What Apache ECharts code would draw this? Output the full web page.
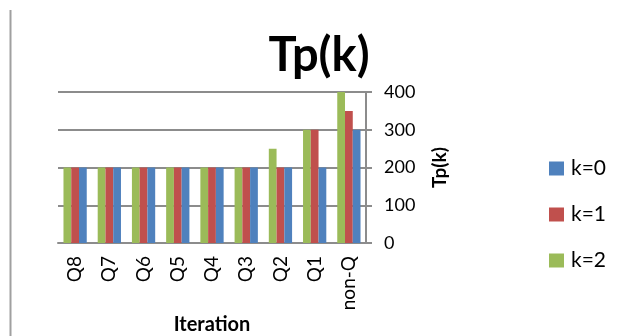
<!DOCTYPE html>
<html>
<head>
<meta charset="utf-8">
<script src="https://cdn.jsdelivr.net/npm/echarts@6/dist/echarts.min.js"></script>
<style>html,body{margin:0;padding:0;background:#fff;}#c{width:627px;height:336px;}</style>
</head>
<body>
<div id="c"></div>
<script>
var categories = ['Q8','Q7','Q6','Q5','Q4','Q3','Q2','Q1','non-Q'];
var k0 = [200,200,200,200,200,200,200,200,300];
var k1 = [200,200,200,200,200,200,200,300,350];
var k2 = [200,200,200,200,200,200,250,300,400];
var yTicks = [0,100,200,300,400];

var FONT = 'Lato, "Open Sans", sans-serif';
var chart = echarts.init(document.getElementById('c'));
chart.setOption({
  animation: false,
  backgroundColor: '#fff',
  title: {
    text: 'Tp(k)',
    left: 314, top: 27, textAlign: 'center',
    textStyle: { fontFamily: FONT, fontWeight: 'bold', fontSize: 47, color: '#000' }
  },
  legend: {
    orient: 'vertical',
    left: 544, top: 153,
    itemWidth: 15, itemHeight: 14, itemGap: 25,
    data: ['k=0','k=1','k=2'],
    textStyle: { fontFamily: FONT, fontSize: 21, color: '#000', padding: [0,0,0,2] },
    icon: 'rect'
  },
  graphic: [{
    type: 'line', shape: { x1: 10.5, y1: 10, x2: 10.5, y2: 336 },
    style: { stroke: '#a0a0a0', lineWidth: 2 }
  }],
  grid: { left: 58, right: 261, top: 92, bottom: 91 },
  xAxis: {
    type: 'category',
    data: categories,
    name: 'Iteration',
    nameLocation: 'middle',
    nameGap: 72,
    nameTextStyle: { fontFamily: FONT, fontWeight: 'bold', fontSize: 20, color: '#000' },
    axisLine: { lineStyle: { color: '#8c8c8c', width: 2 } },
    axisTick: { show: false },
    axisLabel: { rotate: 90, fontFamily: FONT, fontSize: 19, color: '#000', margin: 13 }
  },
  yAxis: {
    type: 'value',
    position: 'right',
    min: 0, max: 400, interval: 100,
    name: 'Tp(k)',
    nameLocation: 'middle',
    nameRotate: 90,
    nameGap: 64,
    nameTextStyle: { fontFamily: FONT, fontWeight: 'bold', fontSize: 19, color: '#000' },
    axisLine: { show: true, lineStyle: { color: '#8c8c8c', width: 2 } },
    axisTick: { show: true, length: 6, lineStyle: { color: '#8c8c8c', width: 2 } },
    axisLabel: { fontFamily: FONT, fontSize: 18, color: '#000', margin: 18,
      formatter: function (v) { return yTicks.indexOf(v) >= 0 ? String(v) : ''; } },
    splitLine: { lineStyle: { color: '#8c8c8c', width: 2 } }
  },
  series: [
    { name: 'k=2', type: 'bar', data: k2, itemStyle: { color: '#9BBB59' }, barGap: '0%', barCategoryGap: '32%' },
    { name: 'k=1', type: 'bar', data: k1, itemStyle: { color: '#C0504D' }, barGap: '0%', barCategoryGap: '32%' },
    { name: 'k=0', type: 'bar', data: k0, itemStyle: { color: '#4F81BD' }, barGap: '0%', barCategoryGap: '32%' }
  ]
});
</script>
</body>
</html>
